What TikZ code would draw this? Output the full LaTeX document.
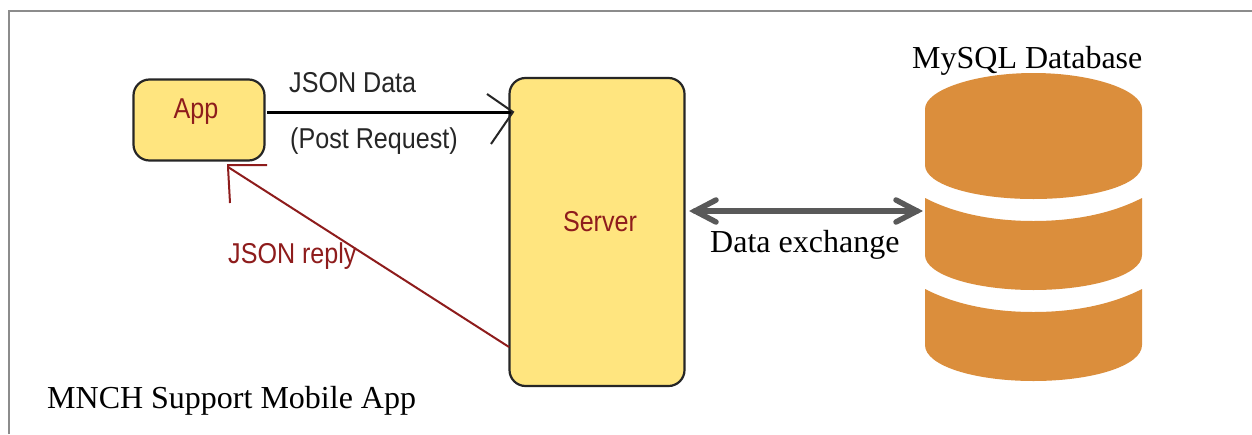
\documentclass[tikz,border=0pt]{standalone}
\usepackage{fontspec}
\setmainfont{Liberation Serif}
\newfontfamily\arialf[FakeStretch=0.875]{Liberation Sans}
\definecolor{boxfill}{HTML}{FFE57F}
\definecolor{darkred}{HTML}{8E1C1C}
\definecolor{dborange}{HTML}{DB8E3C}
\definecolor{framegray}{HTML}{8C8C8C}
\definecolor{xgray}{HTML}{595959}
\tikzset{
  x=1pt,y=-1pt,
  boxn/.style={draw=black!85,line width=2.2pt,fill=boxfill,rounded corners=16pt,minimum width=#1,inner sep=0pt,outer sep=0pt},
  serift/.style={font=\fontsize{32}{32}\selectfont,inner sep=0pt,anchor=base west,text=black},
  sanst/.style={font=\arialf\fontsize{28.7}{29}\selectfont,inner sep=0pt,anchor=base west,text=black!85},
  redt/.style={font=\arialf\fontsize{28.7}{29}\selectfont,inner sep=0pt,anchor=base,text=darkred},
  dbfill/.style={fill=dborange,draw=none},
  xarrow/.style={draw=xgray,line width=5.5pt,line cap=round,line join=miter},
}
\begin{document}
\begin{tikzpicture}
\useasboundingbox (0,0) rectangle (1252,434);
\fill[white] (0,0) rectangle (1252,434);
\draw[framegray,line width=2pt] (8.5,434) -- (8.5,10.5) -- (1252,10.5);
% database
\fill[dbfill] (925,109) .. controls (925,90) and (975,73) .. (1033.5,73) .. controls (1092,73) and (1142,90) .. (1142,109) -- (1142,165) .. controls (1142,185) and (1092,199) .. (1033.5,199) .. controls (975,199) and (925,185) .. (925,165) -- cycle;
\fill[dbfill] (925,198) .. controls (960,216) and (1000,221) .. (1033.5,221) .. controls (1067,221) and (1107,216) .. (1142,198) -- (1142,255) .. controls (1142,275) and (1092,290) .. (1033.5,290) .. controls (975,290) and (925,275) .. (925,255) -- cycle;
\fill[dbfill] (925,289) .. controls (960,307) and (1000,312) .. (1033.5,312) .. controls (1067,312) and (1107,307) .. (1142,289) -- (1142,345) .. controls (1142,366) and (1092,381) .. (1033.5,381) .. controls (975,381) and (925,366) .. (925,345) -- cycle;
\node[serift] (dbl) at (912,68) {MySQL Database};
% boxes
\node[boxn=131pt,minimum height=81pt] (app) at (199,120) {};
\node[boxn=175pt,minimum height=308pt] (server) at (597,232) {};
\node[redt] (appl) at (196,118) {App};
\node[redt] (serverl) at (600,231) {Server};
% json data
\coordinate (hu) at (487,94);
\coordinate (hd) at (491,144);
\coordinate (tip) at (513,112);
\coordinate (jstart) at (267,112);
\draw[black,line width=3pt] (jstart) -- (tip);
\draw[black!85,line width=2pt] (hu) -- (tip) -- (hd);
\node[sanst] (jd) at (289,92.5) {JSON Data};
\node[sanst] (pr) at (290,148) {(Post Request)};
% reply
\coordinate (rtip) at (228,167);
\coordinate (rh1) at (267,165);
\coordinate (rh2) at (230,203);
\coordinate (rstart) at (509,347);
\draw[darkred,line width=2pt] (rstart) -- (rtip);
\draw[darkred,line width=2pt] (rh2) -- (rtip) -- (228,165) -- (rh1);
\node[redt,anchor=base west] (jr) at (228,263) {JSON reply};
% exchange
\coordinate (xl) at (695,211);
\coordinate (xr) at (917,211);
\draw[xarrow] (xl) -- (xr);
\draw[xarrow] (716,200) -- (xl) -- (716,222);
\draw[xarrow] (896,200) -- (xr) -- (896,222);
\node[serift] (de) at (710,252) {Data exchange};
\node[serift] (mn) at (47,408) {MNCH Support Mobile App};
\end{tikzpicture}
\end{document}
